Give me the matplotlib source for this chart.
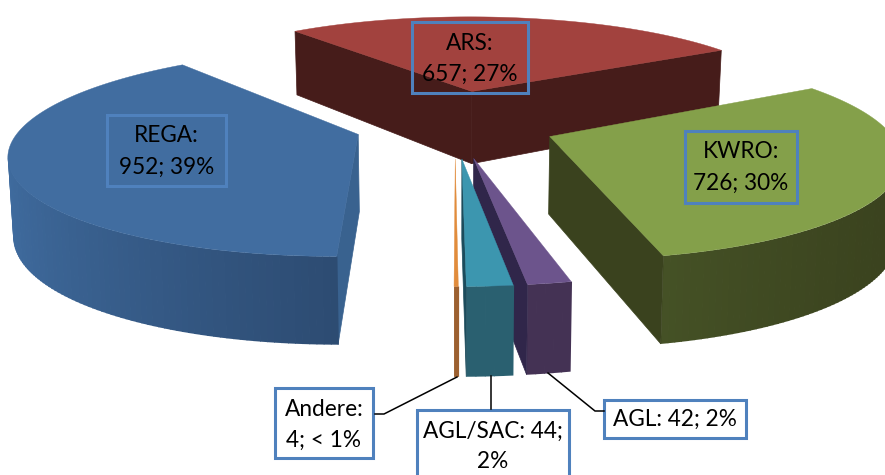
import numpy as np
import matplotlib
matplotlib.use('Agg')
import matplotlib.pyplot as plt
from matplotlib.colors import to_rgb
from matplotlib.patches import Polygon, Rectangle

plt.rcParams['font.family'] = ['Lato', 'DejaVu Sans']

# clockwise from the start angle
categories = ['ARS', 'KWRO', 'AGL', 'AGL/SAC', 'Andere', 'REGA']
values = [657, 726, 42, 44, 4, 952]
pct_labels = ['27%', '30%', '2%', '2%', '< 1%', '39%']

top_colors = ['#a2423e', '#84a04a', '#6c548c', '#3c96af', '#e18c3c', '#416da0']
rim_light = ['#461c1a', '#4e5e2c', '#443254', '#2a6070', '#9c6030', '#3f6b9e']
rim_dark = ['#461c1a', '#3a421e', '#443254', '#2a6070', '#9c6030', '#2c4a70']
edge_colors = ['#461c1a', '#3a421e', '#30264a', '#1c4c5c', '#9c6030', '#39628f']
radius = [1, 1, 0.96, 0.96, 0.96, 1]   # thin slices look a bit shorter

start = -38.5   # degrees, clockwise from the back
ex, ey = 0.30, 0.35   # how far the slices are pulled out
x0, y0 = 455, 123
A, B, p = 335, 97, 0.17
FS = 16.3


def project(X, Y):
    s = 1 / (1 - p * Y)
    return x0 + A * X * s, y0 + B * Y * s


def drop(x, y, Y):
    # extruded point under a top point
    return x - (x - x0) * 0.012, y + 76 + 11 * Y


def draw_slice(ax, i, a0, a1):
    mid = np.radians((a0 + a1) / 2)
    cx, cy = ex * np.sin(mid), -ey * np.cos(mid)
    t = np.radians(np.linspace(a0, a1, max(4, int(a1 - a0))))
    X = np.r_[cx, cx + radius[i] * np.sin(t)]
    Y = np.r_[cy, cy - radius[i] * np.cos(t)]
    sx, sy = project(X, Y)
    bx, by = drop(sx, sy, Y)
    n = len(sx)
    xmin, xmax = sx.min(), sx.max()
    c1 = np.array(to_rgb(rim_light[i]))
    c2 = np.array(to_rgb(rim_dark[i]))
    # rim goes clockwise, right to left along the front; draw left to right
    # and let every strip run under the one drawn after it
    faces = []
    for j in range(n):
        k = (j + 1) % n
        if sx[k] - sx[j] < 0:    # only faces turned to the viewer
            faces.append((j, k))
    faces.sort(key=lambda jk: sx[jk[0]] + sx[jk[1]], reverse=True)
    for j, k in faces:
        radial = j == 0 or k == 0
        if radial:
            col = edge_colors[i]
        else:
            f = ((sx[j] + sx[k]) / 2 - xmin) / max(xmax - xmin, 1)
            col = c1 + (c2 - c1) * f ** 0.7
        # overlap the neighbour to hide seams
        over = 0 if radial else 0.8
        ax.add_patch(Polygon([(sx[j] + over, sy[j]), (sx[k], sy[k]), (bx[k], by[k]), (bx[j] + over, by[j])],
                             closed=True, fc=col, ec=col if radial else 'none', lw=0.5))
    ax.add_patch(Polygon(np.c_[sx, sy], closed=True, fc=top_colors[i], ec=top_colors[i], lw=0.3))


fig = plt.figure(figsize=(8.85, 4.75), dpi=100)
ax = fig.add_axes([0, 0, 1, 1])
ax.set_xlim(0, 885)
ax.set_ylim(475, 0)
ax.axis('off')

angles = start + np.r_[0, np.cumsum(values)] / sum(values) * 360
for i in [0, 5, 1, 2, 3, 4]:
    draw_slice(ax, i, angles[i], angles[i + 1])

# leader lines
line_kw = dict(color='black', lw=1.1, solid_joinstyle='miter')
ax.plot([375, 384, 457], [414, 414, 377], **line_kw)
ax.plot([491, 491], [376, 409], **line_kw)
ax.plot([548, 595, 604], [373, 411, 411], **line_kw)

# label boxes: left, top, right, bottom
boxes = {
    'ARS': (412, 22, 528, 93),
    'KWRO': (685, 131, 797, 203),
    'AGL': (604, 400, 746, 438),
    'AGL/SAC': (417, 410, 569, 490),
    'Andere': (275, 388, 373, 458),
    'REGA': (107, 115, 226, 186),
}
for name, v, pct in zip(categories, values, pct_labels):
    l, t, r, b = boxes[name]
    ax.add_patch(Rectangle((l, t), r - l, b - t, fc='white' if name in ('AGL', 'AGL/SAC', 'Andere') else 'none',
                           ec='#4f81bd', lw=2.2))
    if name == 'AGL':
        ax.text((l + r) / 2, (t + b) / 2, f'{name}: {v}; {pct}', ha='center', va='center', fontsize=FS)
    elif name == 'AGL/SAC':
        ax.text((l + r) / 2, 431, f'{name}: {v};', ha='center', va='center', fontsize=FS)
        ax.text((l + r) / 2, 462, pct, ha='center', va='center', fontsize=FS)
    else:
        ax.text((l + r) / 2, t + 21, f'{name}:', ha='center', va='center', fontsize=FS)
        ax.text((l + r) / 2, t + 52, f'{v}; {pct}', ha='center', va='center', fontsize=FS)

fig.savefig('out.png', dpi=100)
